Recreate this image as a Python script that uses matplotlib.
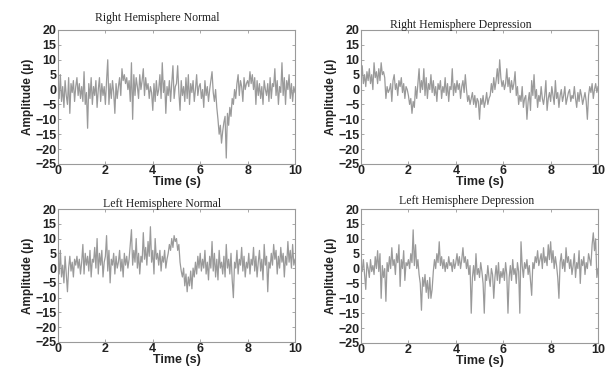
import numpy as np
import matplotlib
matplotlib.use("Agg")
import matplotlib.pyplot as plt

# Amplitude values, one every 0.05 s (one row = one second)
right_normal = [
    2, -3, 5, -4, 1, -6, 3, -2, -5, 4, -8, 2, -1, 3, -4, 1, 4, -2, 2, -3,
    1, -4, 6, -5, -1, -13, 2, -3, 4, -5, 1, -2, 3, -6, 0, 4, -4, 2, -2, 1,
    -5, 3, 10, -5, 2, -3, 3, -1, -8, 2, -3, 1, 4, -2, 7, 3, 5, 2, 4, 0,
    3, -4, 9, -10, 5, -2, 4, 1, -3, 5, 0, 3, 7, -2, 4, 0, 2, -3, 1, -1,
    -7, 2, -4, 3, -2, 0, 5, -3, 9, -1, 3, -8, 1, -2, 3, -4, 2, 8, -3, 1,
    2, 8, -1, -7, 3, -2, 1, -4, 4, -3, 5, -5, 2, -1, 3, -4, 0, 5, -2, 1,
    2, -3, 0, -6, 3, -2, 1, -4, 0, 3, 6, -1, -4, 0, -6, -10, -15, -12, -18, -14,
    -11, -9, -23, -8, -12, -6, -9, -3, -5, 0, -3, 2, 5, -2, 3, 1, -4, 4, 0, 2,
    3, 1, 6, 2, 5, 0, 4, -5, 3, -2, 2, -3, 1, -5, 3, 0, -2, 2, -4, 4,
    -3, 2, 1, 7, -2, 3, -5, 1, -1, 9, -2, 4, -5, 3, 0, 5, -3, 2, -4, 1,
    -1]

right_depression = [
    3, 8, 2, 5, 1, 6, 3, 7, 2, 5, 0, 9, 4, 6, 2, 7, 3, 9, 5, 6,
    4, -3, 1, -1, 0, 2, -4, 3, 5, 0, 2, -2, 3, 1, 4, -1, 2, -3, 1, 0,
    -2, -5, -3, -8, -4, -6, 1, -3, 2, 7, -1, 3, 0, 7, -2, 4, -3, 2, 0, 5,
    -1, 3, -2, 1, -4, 2, 0, 3, -3, 1, -1, 4, -2, 2, -4, 1, 0, 7, -2, 2,
    -1, 3, 0, 2, -3, 1, 3, -1, 5, 0, -4, -2, -5, -3, -1, -5, -2, -6, -3, -4,
    -10, -3, -5, -2, -6, -4, -1, -5, -3, -2, 2, -1, 4, 0, 3, 7, 2, 10, 4, 1,
    3, 0, 2, 7, 1, 4, -1, 3, 0, 2, 6, -2, 1, -5, -2, -4, 1, -6, -3, -2,
    -10, -4, -1, -7, 3, -2, 5, -3, 0, -6, -2, -4, 1, -3, -5, -2, 3, -7, -3, -1,
    -4, 1, -2, -5, 3, -3, -1, -6, -2, 0, -4, -2, 1, -5, -3, -1, 0, -4, -2, -3,
    1, -3, -6, -1, -4, 0, -2, -5, -3, -1, -4, -10, -2, 1, -1, 2, -3, 0, 2, -1,
    1]

left_normal = [
    3, -2, 6, -3, 1, -5, 4, -2, -8, 0, 4, -1, 2, -3, 3, 1, 4, 0, 3, -2,
    2, 8, -2, 5, 1, 4, -1, 6, -3, 3, 2, 7, 0, 10, -2, 5, 1, 6, -3, 2,
    4, 11, -1, 6, -5, 3, 1, 5, -2, 4, 0, 2, 6, -1, 3, -3, 5, 1, 4, 0,
    3, 8, 13, 1, 6, 2, 10, 0, 5, -2, 4, 2, 12, 3, 7, 1, 9, 4, 14, 2,
    6, -2, 10, 3, 5, 1, 6, -1, 4, 2, 6, 0, 3, 5, 8, 6, 10, 7, 11, 9,
    10, 6, 8, 2, -1, -3, 0, -6, -2, -8, -3, -6, -1, -7, 0, -3, 2, -2, 4, 0,
    5, -1, 3, 0, 6, -2, 2, -4, 4, 0, 9, -1, 5, -3, 3, -4, 6, 0, 2, -2,
    4, -3, 8, 0, 3, -2, 5, -4, -10, 2, 0, 6, -2, 3, 1, 7, -1, 4, -3, 2,
    0, 5, -2, 3, 1, 7, -1, 4, -3, 2, 6, -1, 3, -4, 8, 1, 4, -8, 2, 0,
    5, 1, 8, 3, 6, -2, 4, 0, 7, 2, 5, -3, 4, 1, 9, 2, 6, 0, 8, 1,
    3]

left_depression = [
    1, -1, 3, -2, -7, 2, 0, -3, 3, -1, 1, -2, 4, 0, 6, -1, 5, -10, 1, -3,
    0, -11, 2, -1, 4, 0, 7, 1, 3, -2, 5, 2, 8, -6, 3, 0, 6, -4, 2, 1,
    3, 0, 5, 2, 13, 1, 8, 0, 3, -2, -5, -14, -3, -6, -2, -8, -4, -10, -3, -10,
    -7, -1, 3, 0, 5, 2, 9, 1, 4, 0, 3, -1, 2, 0, 4, 1, 2, -1, 3, 0,
    2, 5, 1, 4, 0, 3, 7, 2, 4, 0, 3, -2, 1, -15, -3, 1, -4, 5, -2, 0,
    -3, 2, -1, -5, -15, -2, -4, 1, -3, -6, 0, -2, -10, -3, 1, -4, 2, -5, -1, -3,
    0, -4, 2, -2, -15, -3, 1, -4, 3, -2, 0, -5, 2, -1, -15, 9, 1, -3, 2, 0,
    3, -2, 1, -4, -9, 2, 0, 4, 2, 6, 1, 3, 5, 0, 7, 2, 4, 1, 8, 3,
    9, 2, 6, 0, 4, 1, -3, -10, 2, 5, 0, 3, -1, 7, 2, 4, 0, 3, -2, 1,
    5, -3, 2, 0, 6, -5, 3, 1, 4, -2, 2, 0, 5, 3, 1, 8, 12, 6, 10, -3,
    0]

titles = ["Right Hemisphere Normal", "Right Hemisphere Depression",
          "Left Hemisphere Normal", "Left Hemisphere Depression"]
series = [right_normal, right_depression, left_normal, left_depression]
t = np.arange(len(right_normal)) * 0.05

# axes boxes in figure fraction [left, bottom, width, height]
boxes = [[0.0952, 0.5556, 0.3892, 0.3631],
         [0.5928, 0.5556, 0.3892, 0.3631],
         [0.0952, 0.0732, 0.3892, 0.3604],
         [0.5928, 0.0705, 0.3892, 0.3631]]
# title centres (axes x fraction, axes y fraction) - they sit left of centre
title_pos = [(0.42, 1.09), (0.42, 1.04), (0.44, 1.04), (0.445, 1.06)]

fig = plt.figure(figsize=(6.09, 3.69), dpi=100)
for box, y, title, tp in zip(boxes, series, titles, title_pos):
    ax = fig.add_axes(box)
    ax.plot(t, y, color="#9a9a9a", lw=0.9)
    ax.set_xlim(0, 10)
    ax.set_ylim(-25, 20)
    ax.set_xticks(range(0, 11, 2))
    ax.set_yticks(range(-25, 21, 5))
    ax.tick_params(direction="in", length=2.5, width=0.6, color="#999999",
                   top=True, right=True, pad=1, labelsize=9,
                   labelcolor="#222222")
    for lab in ax.get_xticklabels() + ax.get_yticklabels():
        lab.set_fontweight("bold")
        lab.set_family("Liberation Sans")
    for s in ax.spines.values():
        s.set_color("#9a9a9a")
        s.set_linewidth(0.8)
    ax.text(tp[0], tp[1], title, transform=ax.transAxes, ha="center",
            va="center", family="Liberation Serif", fontsize=8.5,
            color="#222222")
    ax.set_xlabel("Time (s)", family="Liberation Sans", fontweight="bold",
                  fontsize=9, labelpad=-1, color="#222222")
    ax.set_ylabel("Amplitude (\u03bc)", family="Liberation Sans",
                  fontweight="bold", fontsize=8.5, labelpad=1,
                  color="#222222")

fig.savefig("out.png", dpi=100)
